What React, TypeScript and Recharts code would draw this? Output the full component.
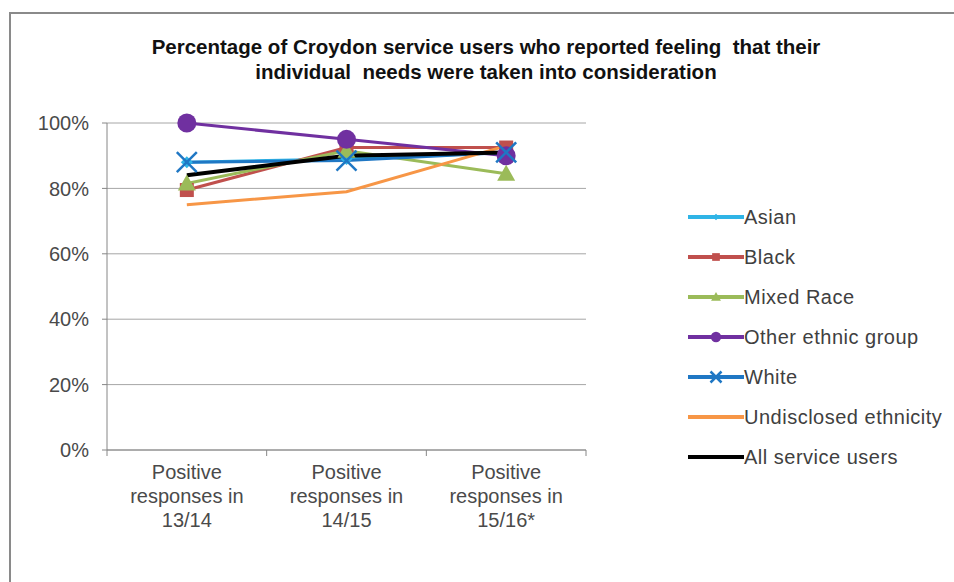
import React from 'react';
import { LineChart, Line, XAxis, YAxis, CartesianGrid } from 'recharts';

const periods = ['13/14', '14/15', '15/16*'];
const asian = [0.88, 0.89, 0.91];
const black = [0.795, 0.925, 0.925];
const mixedRace = [0.815, 0.915, 0.845];
const otherEthnic = [1.0, 0.95, 0.9];
const white = [0.88, 0.885, 0.91];
const undisclosed = [0.75, 0.79, 0.93];
const allUsers = [0.84, 0.9, 0.91];
const yTicks = [0, 0.2, 0.4, 0.6, 0.8, 1];

const FONT = '"Liberation Sans", Arial, sans-serif';

type Marker = 'diamond' | 'square' | 'triangle' | 'circle' | 'cross' | 'none';

const series: { key: string; name: string; color: string; marker: Marker; width: number; values: number[] }[] = [
  { key: 'asian', name: 'Asian', color: '#2fb4e6', marker: 'diamond', width: 3, values: asian },
  { key: 'black', name: 'Black', color: '#c0504d', marker: 'square', width: 3, values: black },
  { key: 'mixed', name: 'Mixed Race', color: '#9bbb59', marker: 'triangle', width: 3, values: mixedRace },
  { key: 'other', name: 'Other ethnic group', color: '#7030a0', marker: 'circle', width: 3, values: otherEthnic },
  { key: 'white', name: 'White', color: '#1f77c4', marker: 'cross', width: 3, values: white },
  { key: 'undisclosed', name: 'Undisclosed ethnicity', color: '#f79646', marker: 'none', width: 3, values: undisclosed },
  { key: 'all', name: 'All service users', color: '#000000', marker: 'none', width: 4, values: allUsers },
];

const data = periods.map((p, i) => {
  const row: Record<string, number | string> = { period: p, x: i + 0.5 };
  series.forEach((s) => {
    row[s.key] = s.values[i];
  });
  return row;
});

// ticks on the boundaries (integers) get a tick mark, halves get the category label
const xTicks: number[] = [];
for (let i = 0; i <= periods.length * 2; i++) xTicks.push(i / 2);

function drawMarker(marker: Marker, cx: number, cy: number, color: string, scale: number, key?: string) {
  const s = scale;
  switch (marker) {
    case 'diamond':
      return (
        <polygon key={key} points={`${cx},${cy - 6 * s} ${cx + 6 * s},${cy} ${cx},${cy + 6 * s} ${cx - 6 * s},${cy}`} fill={color} />
      );
    case 'square':
      return <rect key={key} x={cx - 7 * s} y={cy - 7 * s} width={14 * s} height={14 * s} fill={color} />;
    case 'triangle':
      return (
        <polygon key={key} points={`${cx},${cy - 9 * s} ${cx + 9 * s},${cy + 7 * s} ${cx - 9 * s},${cy + 7 * s}`} fill={color} />
      );
    case 'circle':
      return <circle key={key} cx={cx} cy={cy} r={9.5 * s} fill={color} />;
    case 'cross':
      return (
        <g key={key} stroke={color} strokeWidth={2.5}>
          <line x1={cx - 10 * s} y1={cy - 10 * s} x2={cx + 10 * s} y2={cy + 10 * s} />
          <line x1={cx - 10 * s} y1={cy + 10 * s} x2={cx + 10 * s} y2={cy - 10 * s} />
        </g>
      );
    default:
      return <g key={key} />;
  }
}

const XTick = (props: any) => {
  const { x, y, payload } = props;
  const v = payload.value as number;
  if (Number.isInteger(v)) {
    return <line x1={x} x2={x} y1={y} y2={y + 6} stroke="#868686" strokeWidth={1} />;
  }
  const label = periods[Math.floor(v)];
  return (
    <text x={x} y={y} textAnchor="middle" fill="#4a4a4a" fontSize={20} fontFamily={FONT}>
      <tspan x={x} dy={29}>Positive</tspan>
      <tspan x={x} dy={24}>responses in</tspan>
      <tspan x={x} dy={24}>{label}</tspan>
    </text>
  );
};

const LegendBox = () => (
  <div style={{ position: 'absolute', left: 688, top: 197, fontFamily: FONT, fontSize: 20, color: '#404040' }}>
    {series.map((s) => (
      <div key={s.key} style={{ display: 'flex', alignItems: 'center', height: 40 }}>
        <svg width={56} height={20} style={{ display: 'block' }}>
          <line x1={0} x2={56} y1={10} y2={10} stroke={s.color} strokeWidth={4} />
          {drawMarker(s.marker, 28, 10, s.color, 0.55)}
        </svg>
        <span style={{ letterSpacing: 0.5 }}>{s.name}</span>
      </div>
    ))}
  </div>
);

export default function App() {
  return (
    <div style={{ position: 'absolute', left: 0, top: 0, width: 954, height: 582, overflow: 'hidden', background: '#fff' }}>
      <div
        style={{
          position: 'absolute',
          left: 9,
          top: 12,
          width: 1000,
          height: 620,
          border: '2px solid #8a8a8a',
          boxSizing: 'border-box',
        }}
      />
      <div
        style={{
          position: 'absolute',
          left: 86,
          top: 34,
          width: 800,
          textAlign: 'center',
          fontFamily: FONT,
          fontWeight: 'bold',
          fontSize: 20.5,
          lineHeight: '25px',
          color: '#111',
        }}
      >
        Percentage of Croydon service users who reported feeling&nbsp; that their
        <br />
        individual&nbsp; needs were taken into consideration
      </div>
      <div style={{ position: 'absolute', left: 0, top: 0 }}>
        <LineChart width={954} height={582} data={data} margin={{ top: 123, right: 368, bottom: 42, left: 17 }}>
          <CartesianGrid horizontal vertical={false} stroke="#a6a6a6" />
          <XAxis
            type="number"
            dataKey="x"
            domain={[0, periods.length]}
            ticks={xTicks}
            interval={0}
            tickLine={false}
            tickSize={0}
            tickMargin={0}
            axisLine={{ stroke: '#868686' }}
            tick={<XTick />}
            height={90}
          />
          <YAxis
            type="number"
            domain={[0, 1]}
            ticks={yTicks}
            interval={0}
            width={90}
            tickSize={5}
            tickMargin={13}
            axisLine={{ stroke: '#868686' }}
            tickLine={{ stroke: '#868686' }}
            tickFormatter={(v: number) => `${Math.round(v * 100)}%`}
            tick={{ fill: '#4a4a4a', fontSize: 20, fontFamily: FONT }}
          />
          {series.map((s) => (
            <Line
              key={s.key}
              type="linear"
              dataKey={s.key}
              name={s.name}
              stroke={s.color}
              strokeWidth={s.width}
              isAnimationActive={false}
              dot={(p: any) => drawMarker(s.marker, p.cx, p.cy, s.color, 1, `${s.key}-${p.index}`)}
              activeDot={false}
            />
          ))}
        </LineChart>
      </div>
      <LegendBox />
    </div>
  );
}
